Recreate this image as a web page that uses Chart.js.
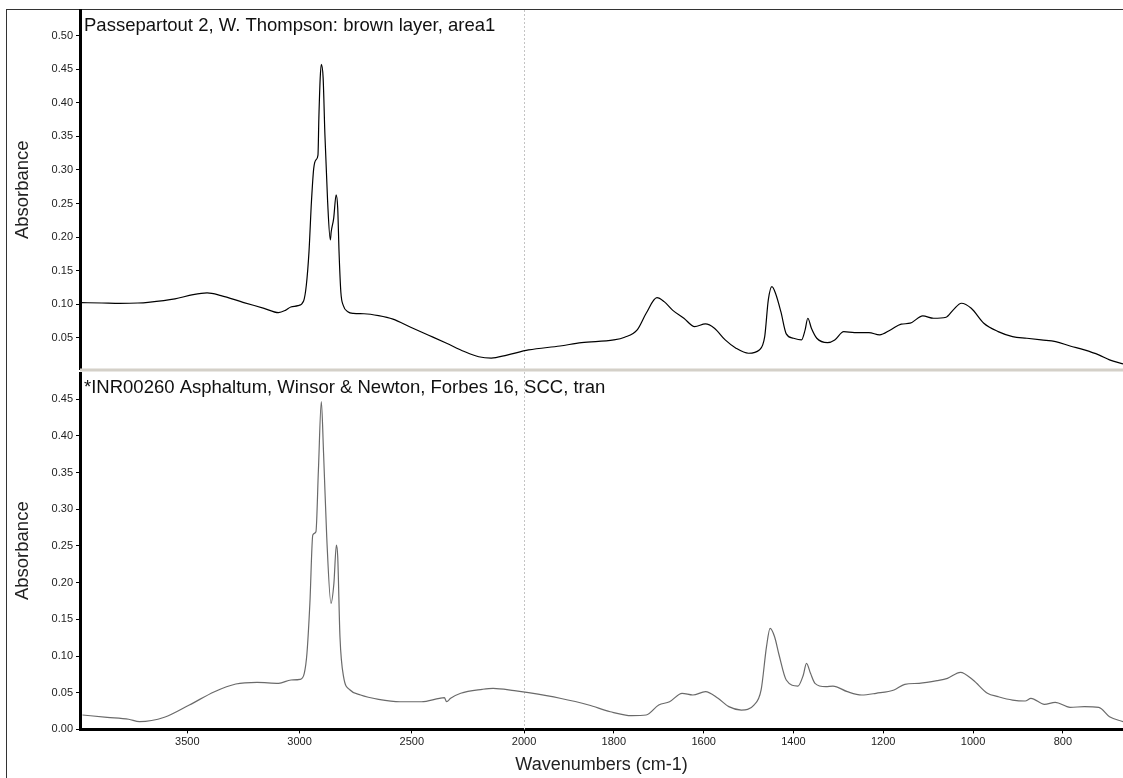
<!DOCTYPE html>
<html>
<head>
<meta charset="utf-8">
<title>FTIR comparison</title>
<script src="https://cdn.jsdelivr.net/npm/chart.js@4.4.1/dist/chart.umd.min.js"></script>
<style>
  html, body { margin: 0; padding: 0; background: #fff; }
  #page { position: relative; width: 1123px; height: 778px; overflow: hidden; }
  #frame { position: absolute; left: 6px; top: 9px; right: -2px; bottom: -2px;
           border-left: 1px solid #333; border-top: 1px solid #333; }
  canvas { position: absolute; left: 0; }
  #top { top: 0; }
  #bottom { top: 372px; }
</style>
</head>
<body>
<div id="page">
  <div id="frame"></div>
  <canvas id="top" width="1123" height="372"></canvas>
  <canvas id="bottom" width="1123" height="406"></canvas>
</div>
<script>
// sample spectrum (top panel)
var sampleWaves = [3975, 3880, 3800, 3720, 3675, 3555, 3474, 3412, 3350, 3252, 3158, 3094, 3063, 3039, 3007,
  2982, 2970, 2958, 2947, 2937, 2927, 2918, 2914, 2908, 2903, 2895, 2887, 2875, 2863, 2859, 2848, 2837, 2830,
  2824, 2816, 2805, 2785, 2760, 2713, 2648, 2584, 2505, 2425, 2345, 2266, 2202, 2146, 2076, 1990,
  1920, 1872, 1800, 1776, 1748, 1728, 1704, 1688, 1668, 1644, 1620, 1596, 1576, 1552, 1528, 1500, 1476,
  1464, 1456, 1448, 1440, 1428, 1416, 1400, 1382, 1374, 1368, 1360, 1348, 1324, 1308, 1288, 1264, 1232,
  1208, 1184, 1160, 1140, 1112, 1088, 1060, 1044, 1026, 1004, 976, 944, 912, 880, 848, 816, 784, 752,
  720, 696, 666];
var sampleAbs = [0.1025, 0.102, 0.1015, 0.102, 0.103, 0.108, 0.1145, 0.117, 0.113, 0.103, 0.094, 0.0876, 0.091, 0.096, 0.098,
  0.105, 0.128, 0.178, 0.253, 0.302, 0.315, 0.322, 0.377, 0.437, 0.457, 0.437, 0.352, 0.253, 0.196, 0.208, 0.228, 0.263, 0.243,
  0.177, 0.118, 0.098, 0.089, 0.0865, 0.086, 0.0832, 0.078, 0.0659, 0.054, 0.042, 0.0297, 0.022, 0.0199, 0.0245, 0.0321,
  0.038, 0.043, 0.047, 0.051, 0.062, 0.0867, 0.110, 0.104, 0.0906, 0.0793, 0.0668, 0.0708, 0.0644, 0.047, 0.0347, 0.0272, 0.0321,
  0.052, 0.1065, 0.1263, 0.1165, 0.089, 0.056, 0.0495, 0.047, 0.0619, 0.0793, 0.0644, 0.0495, 0.043, 0.047, 0.0594, 0.058, 0.058,
  0.0545, 0.0619, 0.0704, 0.0719, 0.0827, 0.0793, 0.0808, 0.0917, 0.1016, 0.0942, 0.0719, 0.0594, 0.052, 0.0495, 0.047, 0.0445, 0.038, 0.0321,
  0.0247, 0.0173, 0.0113];

// reference spectrum (bottom panel)
var refWaves = [3967, 3857, 3761, 3713, 3602, 3491, 3379, 3284, 3189, 3093, 3038, 2998, 2979, 2967, 2954,
  2941, 2927, 2916, 2903, 2893, 2879, 2860, 2847, 2836, 2830, 2820, 2804, 2775, 2728, 2648, 2552, 2457,
  2377, 2355, 2345, 2327, 2282, 2186, 2138, 2043, 1990,
  1920, 1856, 1808, 1760, 1728, 1700, 1676, 1648, 1624, 1596, 1568, 1544, 1516, 1488, 1472, 1460, 1452,
  1442, 1432, 1416, 1390, 1378, 1371, 1362, 1352, 1328, 1312, 1280, 1248, 1216, 1176, 1152, 1120, 1080,
  1057, 1028, 1000, 968, 944, 912, 884, 871, 841, 817, 784, 752, 720, 696, 666];
var refAbs = [0.0196, 0.0165, 0.0138, 0.0105, 0.0165, 0.0332, 0.0514, 0.0619, 0.0641, 0.0628, 0.0673, 0.0682, 0.0764, 0.1037, 0.1718,
  0.2649, 0.2694, 0.3534, 0.4465, 0.376, 0.2626, 0.1718, 0.199, 0.2512, 0.2353, 0.1263, 0.0718, 0.0537, 0.0469, 0.041, 0.0377, 0.0377,
  0.0424, 0.0433, 0.0377, 0.0424, 0.0492, 0.0546, 0.056, 0.0528, 0.05,
  0.0424, 0.0332, 0.0241, 0.0187, 0.0196, 0.0332, 0.0377, 0.0492, 0.0469, 0.0514, 0.0424, 0.031, 0.0264, 0.0332, 0.0537, 0.1127, 0.1377,
  0.1263, 0.1014, 0.0673, 0.0591, 0.0741, 0.09, 0.0764, 0.0628, 0.0582, 0.0591, 0.0514, 0.0469, 0.0492, 0.0537, 0.0614, 0.0628, 0.0664,
  0.0696, 0.0778, 0.0673, 0.0492, 0.0446, 0.04, 0.0387, 0.0424, 0.0342, 0.0369, 0.0301, 0.031, 0.0301, 0.0173, 0.0105];

var xTicks = [3500, 3000, 2500, 2000, 1800, 1600, 1400, 1200, 1000, 800];
var topTicks = [0.05, 0.10, 0.15, 0.20, 0.25, 0.30, 0.35, 0.40, 0.45, 0.50];
var bottomTicks = [0.00, 0.05, 0.10, 0.15, 0.20, 0.25, 0.30, 0.35, 0.40, 0.45];

var sampleTitle = 'Passepartout 2, W. Thompson: brown layer, area1';
var refTitle = '*INR00260 Asphaltum, Winsor & Newton, Forbes 16, SCC, tran';

var FONT = "'Liberation Sans', Arial, sans-serif";
Chart.defaults.font.family = FONT;
Chart.defaults.color = '#222';

// OMNIC style axis: high wavenumbers on the left, everything below 2000 drawn twice as wide
var BREAK = 2000, STRETCH = 2;
class WaveScale extends Chart.LinearScale {
  static id = 'wave';
  static defaults = {};
  buildTicks() {
    return xTicks.map(function (v) { return { value: v }; });
  }
  span() {
    return (this.max - BREAK) + STRETCH * (BREAK - this.min);
  }
  getPixelForValue(v) {
    if (v == null || isNaN(v)) return NaN;
    var d = v >= BREAK ? this.max - v : (this.max - BREAK) + STRETCH * (BREAK - v);
    return this.getPixelForDecimal(d / this.span());
  }
  getValueForPixel(px) {
    var d = this.getDecimalForPixel(px) * this.span();
    var left = this.max - BREAK;
    return d <= left ? this.max - d : BREAK - (d - left) / STRETCH;
  }
}
Chart.register(WaveScale);

var panelDecor = {
  id: 'panelDecor',
  beforeDatasetsDraw: function (chart) {
    var ctx = chart.ctx, a = chart.chartArea;
    var px = Math.round(chart.scales.x.getPixelForValue(BREAK)) + 0.5;
    ctx.save();
    ctx.strokeStyle = '#c4c4c4';
    ctx.lineWidth = 1;
    ctx.setLineDash([2, 2]);
    ctx.beginPath();
    ctx.moveTo(px, a.top);
    ctx.lineTo(px, a.bottom);
    ctx.stroke();
    ctx.restore();
  },
  afterDraw: function (chart, args, opts) {
    var ctx = chart.ctx, a = chart.chartArea;
    ctx.save();
    if (opts.separator) {
      ctx.strokeStyle = '#d4d0c8';
      ctx.lineWidth = 3;
      ctx.beginPath();
      ctx.moveTo(a.left, a.bottom + 0.5);
      ctx.lineTo(a.right, a.bottom + 0.5);
      ctx.stroke();
    }
    ctx.font = '18.5px ' + FONT;
    ctx.fillStyle = '#111';
    ctx.textBaseline = 'alphabetic';
    ctx.fillText(opts.title, a.left + 4, a.top + 21);
    ctx.restore();
  }
};

function yAxis(min, max, ticks) {
  return {
    min: min,
    max: max,
    afterBuildTicks: function (s) { s.ticks = ticks.map(function (v) { return { value: v }; }); },
    afterFit: function (s) { s.width = 80; s.paddingTop = 0; s.paddingBottom = 0; },
    ticks: { font: { size: 11 }, padding: 3, color: '#222',
             callback: function (v) { return v.toFixed(2); } },
    grid: { drawOnChartArea: false, drawTicks: true, tickLength: 4, color: '#000' },
    border: { color: '#000', width: 3 },
    title: { display: true, text: 'Absorbance', font: { size: 18.5 }, color: '#222',
             padding: { top: 12, bottom: 0 } }
  };
}

function spectrum(waves, abs, color) {
  return {
    data: waves.map(function (w, i) { return { x: w, y: abs[i] }; }),
    borderColor: color,
    borderWidth: 1.2,
    pointRadius: 0,
    fill: false,
    cubicInterpolationMode: 'monotone'
  };
}

new Chart(document.getElementById('top'), {
  type: 'line',
  data: { datasets: [spectrum(sampleWaves, sampleAbs, '#000')] },
  options: {
    responsive: false,
    animation: false,
    layout: { padding: { top: 10, bottom: 2.5, left: 0, right: 0 } },
    plugins: {
      legend: { display: false },
      tooltip: { enabled: false },
      panelDecor: { title: sampleTitle, separator: true }
    },
    scales: {
      x: { type: 'wave', min: 666, max: 3978, display: false },
      y: yAxis(0.003, 0.538, topTicks)
    }
  },
  plugins: [panelDecor]
});

new Chart(document.getElementById('bottom'), {
  type: 'line',
  data: { datasets: [spectrum(refWaves, refAbs, '#6a6a6a')] },
  options: {
    responsive: false,
    animation: false,
    layout: { padding: { top: 0, bottom: 0, left: 0, right: 0 } },
    plugins: {
      legend: { display: false },
      tooltip: { enabled: false },
      panelDecor: { title: refTitle, separator: false }
    },
    scales: {
      x: {
        type: 'wave', min: 666, max: 3978,
        afterFit: function (s) { s.height = 48.6; },
        ticks: { font: { size: 11 }, padding: 2, color: '#222', autoSkip: false, maxRotation: 0,
                 callback: function (v) { return String(v); } },
        grid: { drawOnChartArea: false, drawTicks: true, tickLength: 4, color: '#000' },
        border: { color: '#000', width: 3 },
        title: { display: true, text: 'Wavenumbers (cm-1)', font: { size: 18 }, color: '#222',
                 padding: { top: 0, bottom: 2 } }
      },
      y: yAxis(0, 0.487, bottomTicks)
    }
  },
  plugins: [panelDecor]
});
</script>
</body>
</html>
